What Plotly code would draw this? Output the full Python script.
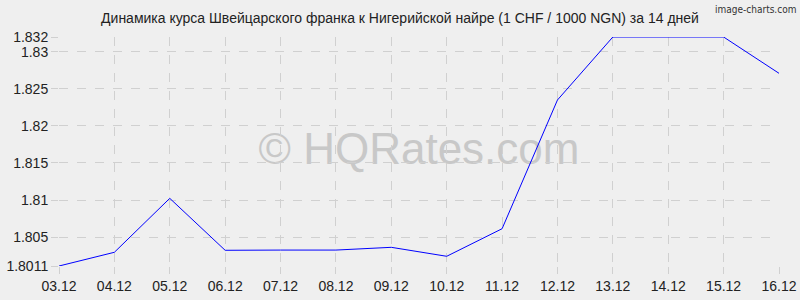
import plotly.graph_objects as go

dates = ["03.12", "04.12", "05.12", "06.12", "07.12", "08.12", "09.12",
         "10.12", "11.12", "12.12", "13.12", "14.12", "15.12", "16.12"]
rates = [1.8011, 1.80295, 1.81023, 1.80322, 1.80325, 1.80325, 1.80362,
         1.80241, 1.80613, 1.8235, 1.832, 1.832, 1.832, 1.8271]
y_ticks = [1.8011, 1.805, 1.81, 1.815, 1.82, 1.825, 1.83, 1.832]
y_tick_labels = ["1.8011", "1.805", "1.81", "1.815", "1.82", "1.825", "1.83", "1.832"]
title = "Динамика курса Швейцарского франка к Нигерийской найре (1 CHF / 1000 NGN) за 14 дней"

fig = go.Figure()
fig.add_trace(go.Scatter(x=dates, y=rates, mode="lines",
                         line=dict(color="#0000ff", width=1), hoverinfo="x+y"))

grid = dict(showgrid=True, gridcolor="#d0d0d0", griddash="dash", gridwidth=1,
            zeroline=False, showline=False, automargin=False,
            ticks="outside", ticklen=7, tickcolor="#d0d0d0",
            tickfont=dict(family="Liberation Sans, Arial", size=14, color="#222222"))

fig.update_layout(
    width=800, height=300,
    margin=dict(l=59, r=21, t=37, b=34),
    paper_bgcolor="#efefef", plot_bgcolor="#efefef",
    showlegend=False,
    title=dict(text=title, x=0.5, xanchor="center", y=0.94, yanchor="middle",
               font=dict(family="Liberation Sans, Arial", size=14, color="#222222")),
    xaxis=dict(**grid, type="category", range=[0, len(dates) - 1], tickangle=0),
    yaxis=dict(**grid, range=[y_ticks[0], y_ticks[-1]], tickmode="array",
               tickvals=y_ticks, ticktext=y_tick_labels),
    shapes=[dict(type="rect", xref="paper", yref="paper", x0=0, x1=1, y0=0.03, y1=1.03,
                 line=dict(width=0), layer="below",
                 label=dict(text="© HQRates.com", textposition="middle center",
                            font=dict(family="Liberation Sans, Arial", size=44, color="#c8c8c8")))],
    annotations=[dict(text="image-charts.com", xref="paper", yref="paper",
                      x=1.0, y=1.0, xanchor="right", yanchor="top",
                      xshift=19, yshift=35, showarrow=False,
                      font=dict(family="DejaVu Sans Condensed, DejaVu Sans", size=10, color="#333333"))],
)

fig.write_html("out.html")
